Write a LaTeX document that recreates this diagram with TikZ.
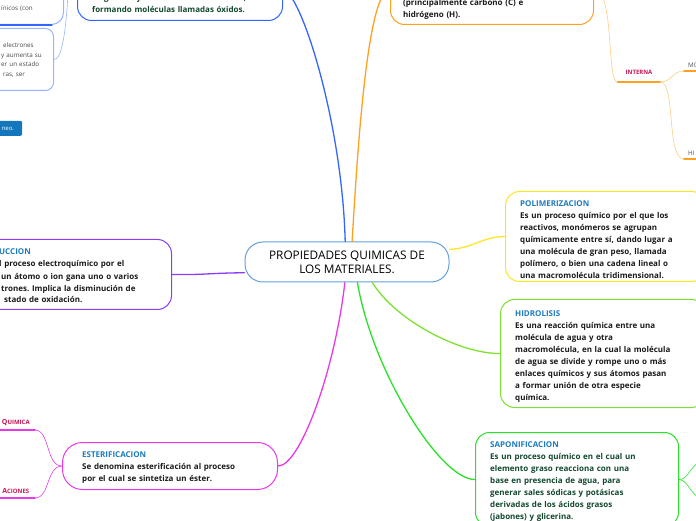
\documentclass[tikz,border=0pt]{standalone}
\usepackage{fontspec}
\setmainfont{Open Sans}
\usetikzlibrary{calc}
\definecolor{ink}{RGB}{26,26,26}
\definecolor{deepgreen}{RGB}{18,72,46}
\definecolor{titleblue}{RGB}{28,123,191}
\definecolor{crimson}{RGB}{204,20,80}
\definecolor{rootline}{RGB}{98,160,222}
\definecolor{blueline}{RGB}{51,102,255}
\definecolor{paleblue}{RGB}{150,180,255}
\definecolor{orangeline}{RGB}{255,160,30}
\definecolor{paleorange}{RGB}{255,205,130}
\definecolor{purpleline}{RGB}{138,60,250}
\definecolor{yellowline}{RGB}{250,232,40}
\definecolor{limeline}{RGB}{125,225,50}
\definecolor{greenline}{RGB}{40,225,40}
\definecolor{magentaline}{RGB}{232,56,232}
\definecolor{notefill}{RGB}{20,118,188}
\frenchspacing

\begin{document}
\begin{tikzpicture}[x=1pt,y=1pt,line cap=round,line join=round,
  topicbox/.style={draw=#1,line width=1pt,rounded corners=14pt,fill=white,inner sep=0pt},
  body/.style={font=\fontsize{8}{12}\selectfont\bfseries,text=ink,align=left,anchor=base west,inner sep=0pt},
  smalltext/.style={font=\fontsize{6.3}{9.6}\selectfont,text=ink!80,align=left,anchor=base west,inner sep=0pt,text width=70},
  branch/.style={draw=#1,line width=1.3pt},
  twig/.style={draw=#1,line width=.6pt},
  tag/.style={font=\fontsize{6}{7}\selectfont\bfseries,text=crimson,inner sep=0pt},
  stub/.style={font=\fontsize{6.3}{7}\selectfont,text=ink!75,inner xsep=4pt,inner ysep=3pt}]
\useasboundingbox (0,0) rectangle (696,520);

\node[topicbox=rootline,rounded corners=18pt,minimum width=204,minimum height=40] (root) at (347,258) {};
\node[font=\fontsize{11.8}{14}\selectfont,text=black,align=center] (roottext) at (347,258) {PROPIEDADES QUIMICAS DE\\LOS MATERIALES.};

\node[topicbox=blueline,minimum width=205,minimum height=61,anchor=south west] (oxid) at (77,499) {};
\node[body,text=deepgreen,text width=190] (oxidtext) at (92,519) {oxígeno se junta con otras sustancias,\\formando moléculas llamadas óxidos.};

\node[topicbox=orangeline,minimum width=203,minimum height=70,anchor=south west] (carbon) at (390,495) {};
\node[body,text width=190] (carbontext) at (403,514) {(principalmente carbono (C) e\\hidrógeno (H).};

\node[tag,minimum width=42,minimum height=18,anchor=south] (interna) at (639,438) {INTERNA};
\node[stub,anchor=south west] (mo) at (684,449) {MO};
\node[stub,anchor=south west] (hi) at (684,361) {HI};

\node[topicbox=paleblue,rounded corners=12pt,minimum width=93,minimum height=65,anchor=south west] (boxa) at (-30,495) {};
\node[smalltext] (boxatext) at (1,509) {ínicos (con};
\node[topicbox=paleblue,rounded corners=8pt,minimum width=83,minimum height=62,anchor=south west] (boxb) at (-30,429) {};
\node[smalltext] (boxbtext) at (1,472.5) {\hspace*{2pt}electrones\\y aumenta su\\er un estado\\\hspace*{2pt}ras, ser};
\coordinate (offtop) at (68,526);

\node[fill=notefill,rounded corners=2pt,minimum width=42,minimum height=15,anchor=south west,inner sep=0pt] (neo) at (-20,384) {};
\node[font=\fontsize{6}{6}\selectfont,text=white,anchor=west,inner sep=0pt] (neotext) at (1.5,391.5) {neo.};

\node[topicbox=purpleline,minimum width=201,minimum height=70,anchor=south west] (reduc) at (-30,210) {};
\node[body,text width=190] (reductext) at (-1,265) {{\color{titleblue}UCCION}\\l proceso electroquímico por el\\\hspace*{2pt}un átomo o ion gana uno o varios\\\hspace*{2pt}trones. Implica la disminución de\\\hspace*{5pt}stado de oxidación.};

\node[topicbox=yellowline,minimum width=200,minimum height=90,anchor=south west] (polim) at (505,238) {};
\node[body,text width=190] (polimtext) at (520,313) {{\color{titleblue}POLIMERIZACION}\\Es un proceso químico por el que los\\reactivos, monómeros se agrupan\\químicamente entre sí, dando lugar a\\una molécula de gran peso, llamada\\polímero, o bien una cadena lineal o\\una macromolécula tridimensional.};

\node[topicbox=limeline,minimum width=205,minimum height=108,anchor=south west] (hidro) at (500,112) {};
\node[body,text width=190] (hidrotext) at (515,204) {{\color{titleblue}HIDROLISIS}\\Es una reacción química entre una\\molécula de agua y otra\\macromolécula, en la cual la molécula\\de agua se divide y rompe uno o más\\enlaces químicos y sus átomos pasan\\a formar unión de otra especie\\química.};

\node[topicbox=greenline,minimum width=203,minimum height=94,anchor=south west] (sapon) at (475,-7) {};
\node[body,text=deepgreen,text width=185] (sapontext) at (490,73) {{\color{titleblue}SAPONIFICACION}\\Es un proceso químico en el cual un\\elemento graso reacciona con una\\base en presencia de agua, para\\generar sales sódicas y potásicas\\derivadas de los ácidos grasos\\(jabones) y glicerina.};
\coordinate (sapup) at (700,58);
\coordinate (sapdown) at (700,22);

\node[topicbox=magentaline,rounded corners=20pt,minimum width=215,minimum height=47,anchor=south west] (ester) at (62,30) {};
\node[body,text width=190] (estertext) at (82,63) {{\color{titleblue}ESTERIFICACION}\\Se denomina esterificación al proceso\\por el cual se sintetiza un éster.};
\node[tag,minimum width=38,minimum height=14,anchor=south east] (quimica) at (35,90) {{\fontsize{7}{7}\selectfont Q}UIMICA};
\node[tag,minimum width=38,minimum height=14,anchor=south east] (aciones) at (35,22) {{\fontsize{7}{7}\selectfont A}CIONES};

\draw[branch=blueline] (root.95) .. controls (342,400) and (300,529.5) .. (oxid.east);
\draw[branch=orangeline] (root.76) .. controls (358,380) and (368,530) .. (carbon.west);
\draw[branch=purpleline] (root.186) .. controls (210,247) and (205,245) .. (reduc.east);
\draw[branch=yellowline] (root.7) .. controls (475,272) and (480,283) .. (polim.west);
\draw[branch=limeline] (root.-39) .. controls (395,200) and (460,166) .. (hidro.west);
\draw[branch=greenline] (root.-63) .. controls (372,150) and (440,40) .. (sapon.west);
\draw[branch=magentaline] (root.-96) .. controls (335,150) and (300,53.5) .. (ester.east);

\draw[twig=paleorange] (carbon.east) .. controls (615,530) and (606,438) .. (interna.south west);
\draw[orangeline,line width=1.6pt] (interna.south west) -- (interna.south east);
\draw[twig=paleorange] (interna.south east) .. controls (672,438) and (672,449) .. (mo.south west);
\draw[twig=paleorange] (interna.south east) .. controls (676,438) and (666,361) .. (hi.south west);
\draw[orangeline,line width=1.6pt] (mo.south west) -- (mo.south east);
\draw[orangeline,line width=1.6pt] (hi.south west) -- (hi.south east);

\draw[blueline,line width=1.1pt] (boxa.south west) -- ($(boxa.south east)+(-12,0)$);
\draw[twig=paleblue] (offtop) .. controls (66,490) and (62,460) .. (boxb.east);

\draw[twig=magentaline] (ester.west) .. controls (46,53.5) and (50,90) .. (quimica.south east);
\draw[twig=magentaline] (ester.west) .. controls (46,53.5) and (50,22) .. (aciones.south east);
\draw[magentaline,line width=1.6pt] (quimica.south west) -- (quimica.south east);
\draw[magentaline,line width=1.6pt] (aciones.south west) -- (aciones.south east);

\draw[twig=greenline] (sapon.east) .. controls (688,40) and (690,54) .. (sapup);
\draw[twig=greenline] (sapon.east) .. controls (688,40) and (690,26) .. (sapdown);
\end{tikzpicture}
\end{document}
